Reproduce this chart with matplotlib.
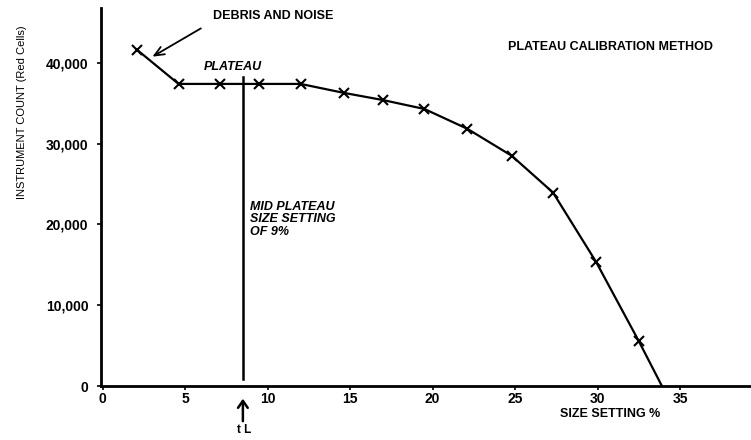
import matplotlib
matplotlib.use('Agg')
import matplotlib.pyplot as plt

plt.rcParams['font.family'] = ['Liberation Sans', 'DejaVu Sans']

# 读数: 尺寸设定 % 与 仪器计数
size_setting = [2.1, 4.6, 7.1, 9.5, 12.0, 14.6, 17.0, 19.5, 22.1, 24.8, 27.3, 29.9, 32.5]
count = [41600, 37400, 37400, 37400, 37400, 36300, 35400, 34300, 31850, 28500, 23950, 15400, 5550]
end_x, end_y = 33.9, 0          # 曲线与x轴的交点
mid_x = 8.5                     # 平台中点
mid_top, mid_bottom = 38300, 860

x_ticks = [0, 5, 10, 15, 20, 25, 30, 35]
y_ticks = [0, 10000, 20000, 30000, 40000]
y_tick_labels = ['0', '10,000', '20,000', '30,000', '40,000']

W, H = 751, 440
fig = plt.figure(figsize=(W / 100, H / 100), dpi=100)
ax = fig.add_axes([101 / W, 54 / H, 650 / W, 378 / H])

ax.plot(size_setting + [end_x], count + [end_y], color='black', lw=1.6)
ax.plot(size_setting, count, linestyle='none', marker='x', color='black',
        markersize=7, markeredgewidth=1.5)
ax.plot([mid_x, mid_x], [mid_bottom, mid_top], color='black', lw=1.8)

ax.set_xlim(-0.1, 39.3)
ax.set_ylim(0, 46800)
ax.set_xticks(x_ticks)
ax.set_yticks(y_ticks)
ax.set_yticklabels(y_tick_labels)
for lab in ax.get_xticklabels() + ax.get_yticklabels():
    lab.set_fontweight('bold')
    lab.set_fontsize(10)
ax.tick_params(axis='both', length=3, width=1.2, direction='out')
ax.tick_params(axis='x', pad=1)
ax.tick_params(axis='y', pad=6)

for s in ['top', 'right']:
    ax.spines[s].set_visible(False)
ax.spines['left'].set_linewidth(2)
ax.spines['bottom'].set_linewidth(2)

# 注释文字
ax.text(6.7, 45800, 'DEBRIS AND NOISE', fontsize=9, fontweight='bold', va='center')
ax.annotate('', xy=(2.87, 40600), xytext=(6.1, 44450),
            arrowprops=dict(arrowstyle='->,head_length=0.7,head_width=0.3', color='black', lw=1.3))
ax.text(6.15, 39500, 'PLATEAU', fontsize=9, fontweight='bold', fontstyle='italic', va='center')
ax.text(24.55, 42000, 'PLATEAU CALIBRATION METHOD', fontsize=9, fontweight='bold', va='center')
ax.text(8.93, 22900, 'MID PLATEAU\nSIZE SETTING\nOF 9%', fontsize=9, fontweight='bold',
        fontstyle='italic', va='top', linespacing=1.05)
ax.text(27.7, -3450, 'SIZE SETTING %', fontsize=9, fontweight='bold', va='center',
        clip_on=False)
ax.annotate('', xy=(mid_x, -1230), xytext=(mid_x, -4700), annotation_clip=False,
            arrowprops=dict(arrowstyle='->,head_length=0.5,head_width=0.35', color='black', lw=1.8))
ax.text(mid_x + 0.1, -5450, 't L', fontsize=8.5, fontweight='bold', ha='center', va='center',
        clip_on=False)

fig.text(22 / W, 1 - 112 / H, 'INSTRUMENT COUNT (Red Cells)', rotation=90,
         fontsize=8, ha='center', va='center')

fig.savefig('out.png', dpi=100)
